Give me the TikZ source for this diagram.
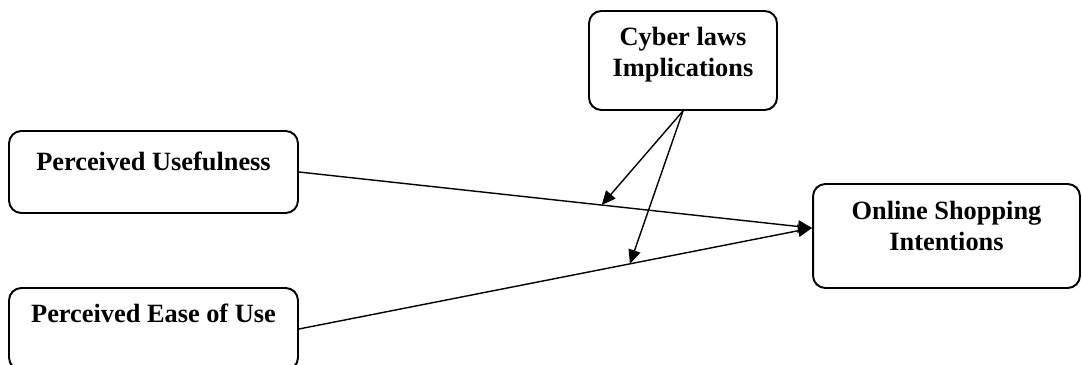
\documentclass[tikz,border=0pt]{standalone}
\usepackage{fontspec}
\setmainfont{Liberation Serif}
\usetikzlibrary{arrows.meta,positioning}

\begin{document}
\begin{tikzpicture}[x=0.02cm,y=-0.02cm,>={Triangle[length=8pt,width=7pt]},line width=0.8pt,
  box/.style={draw,line width=1.1pt,rounded corners=7pt},
  lbl/.style={font=\fontsize{15}{17.8}\selectfont\bfseries,align=center,inner sep=0pt}]
\clip (0,0) rectangle (1082,365);
\node[box,minimum width=5.78cm,minimum height=1.64cm] (pu) at (153.5,172) {};
\node[box,minimum width=5.78cm,minimum height=1.64cm] (peou) at (153.5,329) {};
\node[box,minimum width=3.76cm,minimum height=1.98cm] (cyber) at (683,60.5) {};
\node[box,minimum width=5.34cm,minimum height=2.08cm] (osi) at (946.5,236) {};

\node[lbl,below=0.43cm of pu.north] (pu-text) {Perceived Usefulness};
\node[lbl,below=0.33cm of peou.north] (peou-text) {Perceived Ease of Use};
\node[lbl,below=0.33cm of cyber.north] (cyber-text) {Cyber laws\\Implications};
\node[lbl,below=0.35cm of osi.north] (osi-text) {Online Shopping\\Intentions};

\coordinate (osi-in) at ([yshift=0.16cm]osi.west);
\draw[->] (pu.east) -- coordinate[pos=0.59] (pu-mid) (osi-in);
\draw[->] (peou.east) -- coordinate[pos=0.645] (peou-mid) (osi-in);
\draw[->] (cyber.south) -- (pu-mid);
\draw[->] (cyber.south) -- (peou-mid);
\end{tikzpicture}
\end{document}
